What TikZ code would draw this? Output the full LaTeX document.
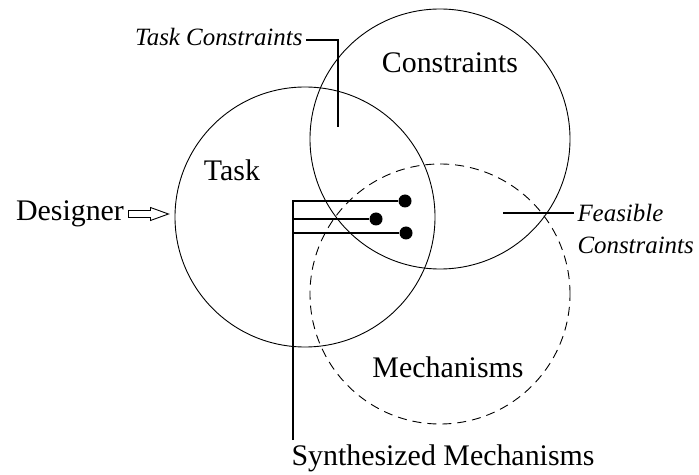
\documentclass[tikz,border=0pt]{standalone}
\usepackage{fontspec}
\setmainfont{Liberation Serif}

\begin{document}
\begin{tikzpicture}[x=1bp,y=-1bp,
    set/.style={draw,circle,minimum size=260bp,inner sep=0pt,line width=0.9bp},
    big/.style={font=\fontsize{30}{36}\selectfont},
    note/.style={font=\fontsize{25}{32}\selectfont\itshape},
    dot/.style={circle,fill,minimum size=13bp,inner sep=0pt},
    lead/.style={line width=1.3bp}]
  \useasboundingbox (0,0) rectangle (699,475);
  \node[set] (task) at (305,217) {};
  \node[set] (cons) at (440,139) {};
  \node[set,dash pattern=on 9bp off 6bp] (mech) at (440,294) {};
  \node[big] (tasklbl) at (232,170) {Task};
  \node[big] (conslbl) at (450,63) {Constraints};
  \node[big] (mechlbl) at (448,367) {Mechanisms};
  \node[big] (designer) at (70,214) {Designer};
  \draw[line width=0.9bp] (designer.east) ++(1,-3.5) -- ++(22,0) -- ++(0,-3)
    -- ++(18,6.5) -- ++(-18,6.5) -- ++(0,-3) -- ++(-22,0) -- cycle;
  \node[note,anchor=east] (tclbl) at (306,37) {Task Constraints};
  \coordinate (tc) at (338,127);
  \draw[lead] ([yshift=-3bp]tclbl.east) -| (tc);
  \node[note,align=left,anchor=north west] (feas) at (574,201) {Feasible\\Constraints};
  \coordinate (fc) at (503,213);
  \draw[lead] (fc) -- (fc -| feas.west);
  \node[dot] (m1) at (405,201) {};
  \node[dot] (m2) at (376,219) {};
  \node[dot] (m3) at (406,233) {};
  \node[big] (synth) at (443,458) {Synthesized Mechanisms};
  \coordinate (foot) at (293,440);
  \draw[lead] (foot) |- (m1);
  \draw[lead] (foot |- m2) -- (m2);
  \draw[lead] (foot |- m3) -- (m3);
\end{tikzpicture}
\end{document}
